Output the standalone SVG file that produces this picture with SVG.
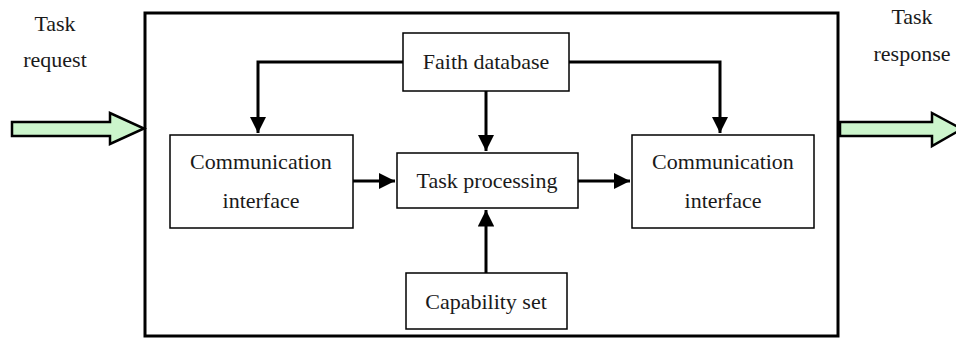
<svg xmlns="http://www.w3.org/2000/svg" width="956" height="339" viewBox="0 0 956 339">
<defs>
<style>
.box{fill:#fff;stroke:#000;stroke-width:1.5}
.t{font-family:"Liberation Serif","Times New Roman",serif;font-size:22px;fill:#1a1a1a;text-anchor:middle}
.c{fill:none;stroke:#000;stroke-width:3}
.g{fill:#ccf5cc;stroke:#000;stroke-width:2.5;stroke-linejoin:miter}
</style>
<marker id="ah" viewBox="0 0 10 10" refX="10" refY="5" markerWidth="5.5" markerHeight="5.5" orient="auto" markerUnits="strokeWidth">
<path d="M0,0 L10,5 L0,10 z" fill="#000"/>
</marker>
</defs>
<rect x="0" y="0" width="956" height="339" fill="#fff"/>
<g id="container"><rect x="145" y="13" width="693" height="323" fill="none" stroke="#000" stroke-width="3"/></g>
<g id="input-arrow"><path class="g" d="M12,122 L110,122 L110,113 L144,128.5 L110,144 L110,136 L12,136 Z"/>
<text class="t" x="55" y="31">Task</text><text class="t" x="55" y="67">request</text></g>
<g id="output-arrow"><path class="g" d="M840,122 L932,122 L932,113 L962,129 L932,146 L932,136 L840,136 Z"/>
<text class="t" x="912" y="24">Task</text><text class="t" x="912" y="61">response</text></g>
<g id="connectors">
<path class="c" d="M403,62 H258 V133" marker-end="url(#ah)"/>
<path class="c" d="M569,62 H720 V133" marker-end="url(#ah)"/>
<path class="c" d="M486,91 V151" marker-end="url(#ah)"/>
<path class="c" d="M486,273 V210" marker-end="url(#ah)"/>
<path class="c" d="M353,181 H395" marker-end="url(#ah)"/>
<path class="c" d="M578,181 H630" marker-end="url(#ah)"/>
</g>
<g id="faith-database"><rect class="box" x="403" y="33" width="166" height="58"/><text class="t" x="486" y="69">Faith database</text></g>
<g id="task-processing"><rect class="box" x="397" y="153" width="181" height="55"/><text class="t" x="487" y="188">Task processing</text></g>
<g id="comm-left"><rect class="box" x="170" y="135" width="183" height="93"/><text class="t" x="261" y="169">Communication</text><text class="t" x="261" y="208">interface</text></g>
<g id="comm-right"><rect class="box" x="632" y="135" width="182" height="93"/><text class="t" x="723" y="169">Communication</text><text class="t" x="723" y="208">interface</text></g>
<g id="capability-set"><rect class="box" x="406" y="273" width="161" height="56"/><text class="t" x="486" y="309">Capability set</text></g>
</svg>
